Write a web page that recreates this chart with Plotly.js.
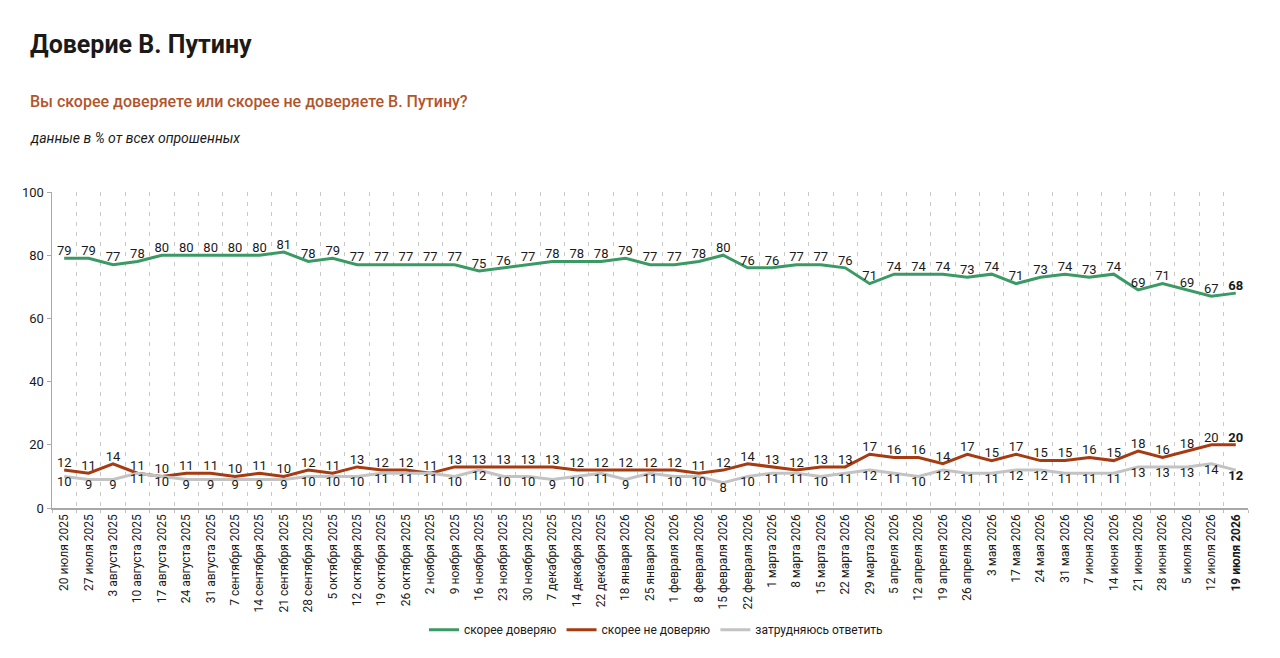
<!DOCTYPE html>
<html>
<head>
<meta charset="utf-8">
<script src="https://cdn.plot.ly/plotly-3.0.1.min.js"></script>
<style>
  html, body { margin: 0; padding: 0; background: #fff; }
  #chart { width: 1280px; height: 658px; }
</style>
</head>
<body>
<div id="chart"></div>
<script>
// dates of the polls
var dates = [
  '20 июля 2025', '27 июля 2025', '3 августа 2025', '10 августа 2025', '17 августа 2025',
  '24 августа 2025', '31 августа 2025', '7 сентября 2025', '14 сентября 2025', '21 сентября 2025',
  '28 сентября 2025', '5 октября 2025', '12 октября 2025', '19 октября 2025', '26 октября 2025',
  '2 ноября 2025', '9 ноября 2025', '16 ноября 2025', '23 ноября 2025', '30 ноября 2025',
  '7 декабря 2025', '14 декабря 2025', '22 декабря 2025', '18 января 2026', '25 января 2026',
  '1 февраля 2026', '8 февраля 2026', '15 февраля 2026', '22 февраля 2026', '1 марта 2026',
  '8 марта 2026', '15 марта 2026', '22 марта 2026', '29 марта 2026', '5 апреля 2026',
  '12 апреля 2026', '19 апреля 2026', '26 апреля 2026', '3 мая 2026', '17 мая 2026',
  '24 мая 2026', '31 мая 2026', '7 июня 2026', '14 июня 2026', '21 июня 2026',
  '28 июня 2026', '5 июля 2026', '12 июля 2026', '19 июля 2026'
];

var trust = [79, 79, 77, 78, 80, 80, 80, 80, 80, 81, 78, 79, 77, 77, 77, 77, 77, 75, 76, 77,
  78, 78, 78, 79, 77, 77, 78, 80, 76, 76, 77, 77, 76, 71, 74, 74, 74, 73, 74, 71,
  73, 74, 73, 74, 69, 71, 69, 67, 68];

var distrust = [12, 11, 14, 11, 10, 11, 11, 10, 11, 10, 12, 11, 13, 12, 12, 11, 13, 13, 13, 13,
  13, 12, 12, 12, 12, 12, 11, 12, 14, 13, 12, 13, 13, 17, 16, 16, 14, 17, 15, 17,
  15, 15, 16, 15, 18, 16, 18, 20, 20];

var unsure = [10, 9, 9, 11, 10, 9, 9, 9, 9, 9, 10, 10, 10, 11, 11, 11, 10, 12, 10, 10,
  9, 10, 11, 9, 11, 10, 10, 8, 10, 11, 11, 10, 11, 12, 11, 10, 12, 11, 11, 12,
  12, 11, 11, 11, 13, 13, 13, 14, 12];

var seriesNames = ['скорее доверяю', 'скорее не доверяю', 'затрудняюсь ответить'];
var yTicks = [0, 20, 40, 60, 80, 100];

var FONT = 'Roboto, "Noto Sans", sans-serif';

// last point is bold on the original
function labels(arr) {
  return arr.map(function (v, i) {
    return i === arr.length - 1 ? '<b>' + v + '</b>' : String(v);
  });
}

var tickText = dates.map(function (d, i) {
  return i === dates.length - 1 ? '<b>' + d + '</b>' : d;
});

var data = [
  {
    x: dates, y: trust, name: seriesNames[0],
    type: 'scatter', mode: 'lines+text',
    line: { color: '#3b9a64', width: 3 },
    text: labels(trust), textposition: 'top center',
    textfont: { size: 13, color: '#1a1a1a', family: FONT }
  },
  {
    x: dates, y: distrust, name: seriesNames[1],
    type: 'scatter', mode: 'lines+text',
    line: { color: '#a63b12', width: 3 },
    text: labels(distrust), textposition: 'top center',
    textfont: { size: 13, color: '#1a1a1a', family: FONT }
  },
  {
    x: dates, y: unsure, name: seriesNames[2],
    type: 'scatter', mode: 'lines+text',
    line: { color: '#c3c3c3', width: 3 },
    text: labels(unsure), textposition: 'bottom center',
    textfont: { size: 13, color: '#1a1a1a', family: FONT }
  }
];

var layout = {
  width: 1280,
  height: 658,
  margin: { l: 52, r: 32, t: 192, b: 150 },
  paper_bgcolor: '#fff',
  plot_bgcolor: '#fff',
  font: { family: FONT, color: '#1a1a1a' },
  showlegend: true,
  hovermode: false,
  legend: {
    orientation: 'h',
    x: 0.505, xanchor: 'center',
    y: -0.385, yanchor: 'middle',
    font: { size: 12, color: '#1a1a1a' },
    itemwidth: 30
  },
  xaxis: {
    type: 'category',
    range: [-0.5, dates.length - 0.5],
    tickmode: 'array',
    tickvals: dates,
    ticktext: tickText,
    tickangle: -90,
    tickfont: { size: 12, color: '#1a1a1a' },
    tickson: 'boundaries',
    ticks: 'outside',
    ticklen: 3,
    tickcolor: '#bdbdbd',
    showgrid: true,
    gridcolor: '#c8c8c8',
    griddash: '4px,6px',
    gridwidth: 1,
    showline: true,
    linecolor: '#a8a8a8',
    linewidth: 1.5,
    zeroline: false,
    fixedrange: true
  },
  yaxis: {
    range: [0, 100],
    tickvals: yTicks,
    ticks: 'outside',
    ticklen: 4,
    tickcolor: '#a8a8a8',
    tickfont: { size: 13, color: '#1a1a1a' },
    showgrid: false,
    showline: true,
    linecolor: '#a8a8a8',
    linewidth: 1.5,
    zeroline: false,
    fixedrange: true
  },
  annotations: [
    {
      text: '<b>Доверие В. Путину</b>',
      xref: 'paper', yref: 'paper',
      x: -0.0201, y: 1.468, xanchor: 'left', yanchor: 'middle',
      showarrow: false,
      font: { size: 25, color: '#1a1a1a', family: FONT }
    },
    {
      text: 'Вы скорее доверяете или скорее не доверяете В. Путину?',
      xref: 'paper', yref: 'paper',
      x: -0.0201, y: 1.285, xanchor: 'left', yanchor: 'middle',
      showarrow: false,
      font: { size: 16, color: '#b3552b', family: FONT, weight: 500 }
    },
    {
      text: '<i>данные в % от всех опрошенных</i>',
      xref: 'paper', yref: 'paper',
      x: -0.0201, y: 1.171, xanchor: 'left', yanchor: 'middle',
      showarrow: false,
      font: { size: 14, color: '#1a1a1a', family: FONT }
    }
  ]
};

Plotly.newPlot('chart', data, layout, { displayModeBar: false, staticPlot: true });
</script>
</body>
</html>
